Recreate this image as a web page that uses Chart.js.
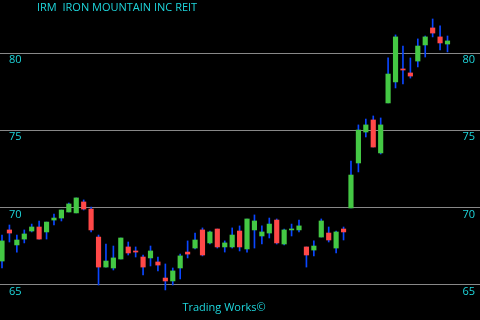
<!DOCTYPE html>
<html>
<head>
<meta charset="utf-8">
<script src="https://cdn.jsdelivr.net/npm/chart.js@4.4.1/dist/chart.umd.min.js"></script>
<style>
    html, body { margin: 0; padding: 0; background: #000; }
    canvas { display: block; }
</style>
</head>
<body>
<canvas id="chart" width="480" height="320"></canvas>
<script>
// Daily OHLC, oldest first
const opens  = [66.55, 68.56, 67.59, 67.97, 68.49, 68.75, 68.43, 69.20, 69.33, 69.72,
                69.66, 70.37, 69.91, 68.10, 66.16, 66.10, 66.68, 67.46, 67.20, 66.81,
                66.75, 66.49, 65.45, 65.26, 66.10, 67.13, 67.39, 68.56, 67.72, 68.62,
                67.46, 67.46, 68.49, 67.33, 68.56, 68.17, 68.36, 69.20, 67.65, 68.56,
                68.56, 67.46, 67.26, 68.10, 68.36, 67.39, 68.62, 69.98, 72.89, 74.89,
                75.67, 73.54, 76.77, 78.13, 78.97, 78.71, 79.48, 80.52, 81.62, 81.04,
                80.58];
const highs  = [68.23, 68.88, 68.23, 68.56, 68.94, 69.14, 69.07, 69.59, 69.85, 70.30,
                70.63, 70.50, 70.04, 68.23, 67.65, 67.52, 68.04, 67.78, 67.46, 66.94,
                67.52, 66.81, 66.36, 66.10, 67.00, 67.85, 68.36, 68.69, 68.49, 68.62,
                67.85, 68.69, 68.82, 69.27, 69.53, 68.82, 69.33, 69.27, 68.62, 68.94,
                69.20, 67.46, 67.85, 69.27, 68.75, 68.49, 68.75, 73.02, 75.35, 75.73,
                75.93, 75.80, 79.68, 81.17, 80.45, 79.68, 80.91, 81.10, 82.20, 81.75,
                81.10];
const lows   = [66.10, 67.78, 67.13, 67.72, 68.43, 67.97, 67.97, 68.88, 69.14, 69.72,
                69.66, 69.85, 68.43, 65.00, 66.16, 65.97, 66.68, 66.94, 66.81, 65.65,
                66.23, 65.91, 64.68, 65.00, 65.39, 66.75, 67.33, 66.88, 67.65, 67.39,
                67.13, 67.39, 67.20, 67.13, 67.39, 67.65, 68.04, 67.65, 67.59, 68.17,
                68.43, 66.16, 66.88, 68.10, 67.78, 67.07, 67.91, 69.98, 72.31, 74.57,
                73.92, 73.47, 76.77, 77.74, 78.00, 78.38, 79.10, 79.74, 81.04, 80.20,
                80.07];
const closes = [67.85, 68.36, 67.91, 68.30, 68.75, 67.97, 69.07, 69.33, 69.85, 70.24,
                70.63, 69.91, 68.56, 66.16, 66.55, 66.75, 68.04, 67.07, 67.13, 66.16,
                67.20, 66.29, 65.26, 65.91, 66.88, 67.00, 67.91, 66.94, 68.43, 67.46,
                67.72, 68.23, 67.46, 69.27, 69.14, 68.43, 68.94, 67.72, 68.56, 68.62,
                68.82, 66.94, 67.52, 69.14, 67.91, 68.43, 68.43, 72.11, 75.02, 75.35,
                73.92, 75.35, 78.64, 81.04, 78.90, 78.51, 80.45, 81.04, 81.29, 80.65,
                80.78];
const priceTicks = [65, 70, 75, 80];
const titleText = 'IRM  IRON MOUNTAIN INC REIT';
const footerText = 'Trading Works\u00A9';

const TEXT = '#1ed6dc';
const UP = '#44c844';
const DOWN = '#ff4848';
const WICK = '#0a46ff';
const GRID = '#888888';
const FONT = { family: "'Open Sans', sans-serif", size: 11 };

const days = opens.map((_, i) => i);
const bodies = opens.map((o, i) => [o, closes[i]]);
const wicks = lows.map((l, i) => [l, highs[i]]);
const bodyColors = opens.map((o, i) => closes[i] >= o ? UP : DOWN);

// title and footer text
const captions = {
    id: 'captions',
    afterDraw(chart) {
        const ctx = chart.ctx;
        ctx.save();
        ctx.fillStyle = TEXT;
        ctx.font = `${FONT.size}px ${FONT.family}`;
        ctx.textBaseline = 'alphabetic';
        ctx.textAlign = 'left';
        ctx.fillText(titleText, 37, 11);
        ctx.textAlign = 'center';
        ctx.fillText(footerText, 224, 311);
        ctx.restore();
    }
};

function priceAxis(position, padding) {
    return {
        type: 'linear',
        position: position,
        min: 62.737,
        max: 83.427,
        border: { display: false },
        grid: position === 'left'
            ? { color: GRID, lineWidth: 1, drawTicks: false }
            : { display: false, drawTicks: false },
        afterBuildTicks: axis => { axis.ticks = priceTicks.map(v => ({ value: v })); },
        // labels sit inside the plot, so the axes take no room
        afterFit: axis => {
            axis.width = 0;
            axis.paddingTop = 0;
            axis.paddingBottom = 0;
        },
        ticks: {
            mirror: true,
            padding: padding,
            labelOffset: 7,
            color: TEXT,
            font: FONT,
        },
    };
}

new Chart(document.getElementById('chart'), {
    type: 'bar',
    data: {
        labels: days,
        datasets: [
            {
                label: 'Body',
                data: bodies,
                backgroundColor: bodyColors,
                borderWidth: 0,
                borderSkipped: false,
                barThickness: 4.5,
                minBarLength: 1,
                grouped: false,
                yAxisID: 'y',
            },
            {
                label: 'Range',
                data: wicks,
                backgroundColor: WICK,
                borderWidth: 0,
                borderSkipped: false,
                barThickness: 1,
                grouped: false,
                yAxisID: 'y',
            },
        ],
    },
    options: {
        responsive: false,
        animation: false,
        layout: { padding: 0 },
        plugins: {
            legend: { display: false },
            tooltip: { enabled: false },
        },
        scales: {
            x: {
                type: 'linear',
                display: false,
                offset: false,
                min: -0.2694,
                max: 64.377,
            },
            y: priceAxis('left', 9),
            y2: priceAxis('right', -5),
        },
    },
    plugins: [captions],
});
</script>
</body>
</html>
